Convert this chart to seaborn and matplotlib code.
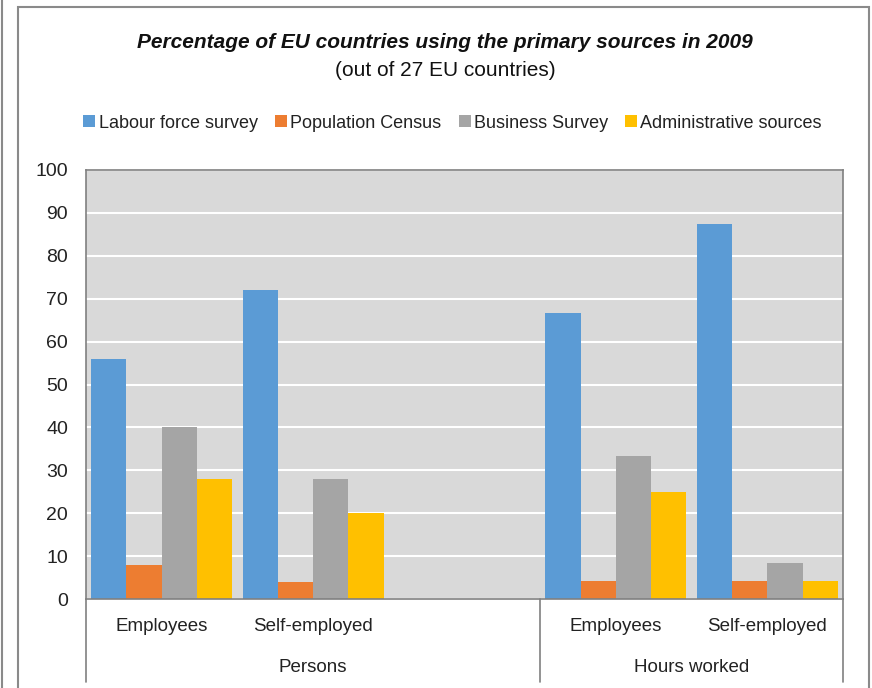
import matplotlib
matplotlib.use("Agg")
import matplotlib.pyplot as plt
import seaborn as sns
import pandas as pd
from matplotlib.patches import Rectangle
from matplotlib.lines import Line2D

# ---- data ----
slots = ["Persons|Employees", "Persons|Self-employed", "Persons|", "Hours worked|Employees", "Hours worked|Self-employed"]
slot_labels = ["Employees", "Self-employed", "", "Employees", "Self-employed"]
groups = ["Persons", "Hours worked"]
series = ["Labour force survey", "Population Census", "Business Survey", "Administrative sources"]
labour_force = [56.0, 72.0, 66.7, 87.5]
population_census = [8.0, 4.0, 4.2, 4.2]
business_survey = [40.0, 28.0, 33.3, 8.3]
administrative = [28.0, 20.0, 25.0, 4.2]
data_slots = ["Persons|Employees", "Persons|Self-employed", "Hours worked|Employees", "Hours worked|Self-employed"]
colors = ["#5B9BD5", "#ED7D31", "#A5A5A5", "#FFC000"]

rows = []
for name, vals in zip(series, [labour_force, population_census, business_survey, administrative]):
    for s, v in zip(data_slots, vals):
        rows.append({"slot": s, "source": name, "value": v})
df = pd.DataFrame(rows)

sns.set_theme(style="white")
FONT = ["Liberation Sans", "DejaVu Sans"]
plt.rcParams["font.family"] = FONT

fig = plt.figure(figsize=(8.72, 6.88), dpi=100)
ax = fig.add_axes([86/872, 89/688, (843-86)/872, (599-170)/688])
ax.set_facecolor("#D9D9D9")

sns.barplot(data=df, x="slot", y="value", hue="source", order=slots, hue_order=series,
            palette=colors, width=0.93, saturation=1, linewidth=0, ax=ax, legend=False, errorbar=None)

ax.set_ylim(0, 100)
ax.set_xlim(-0.5, len(slots) - 0.5)
ax.set_yticks(range(0, 101, 10))
ax.yaxis.grid(True, color="white", linewidth=1.5)
ax.set_axisbelow(True)
ax.tick_params(axis="y", labelsize=14, length=0, pad=13)
for t in ax.get_yticklabels():
    t.set_color("#222222")
ax.set_xticks([])
ax.set_xlabel("")
ax.set_ylabel("")
for side in ["top", "right", "left", "bottom"]:
    ax.spines[side].set_color("#808080")
    ax.spines[side].set_linewidth(1.2)

# category labels and group labels
trans = ax.get_xaxis_transform()
for i, lab in enumerate(slot_labels):
    if lab:
        ax.text(i, -0.065, lab, transform=trans, ha="center", va="center", fontsize=13.5, color="#222222")
ax.text(1.0, -0.16, groups[0], transform=trans, ha="center", va="center", fontsize=13.5, color="#222222")
ax.text(3.5, -0.16, groups[1], transform=trans, ha="center", va="center", fontsize=13.5, color="#222222")
for xv in [-0.5, 2.5, 4.5]:
    ax.plot([xv, xv], [0, -0.193], transform=trans, color="#808080", linewidth=1.2, clip_on=False)

# titles
fig.text(445/872, 1 - 43/688, "Percentage of EU countries using the primary sources in 2009",
         ha="center", va="center", fontsize=15, fontweight="bold", fontstyle="italic", color="#111111")
fig.text(445/872, 1 - 71/688, "(out of 27 EU countries)", ha="center", va="center", fontsize=15, color="#111111")

# legend
handles = [Line2D([], [], marker="s", linestyle="none", markersize=8, markerfacecolor=c, markeredgewidth=0) for c in colors]
fig.legend(handles, series, loc="center", bbox_to_anchor=(452/872, 1 - 123/688), ncol=4, frameon=False,
           fontsize=13, handletextpad=0.1, columnspacing=0.9, handlelength=0.8, labelcolor="#222222")

# frame lines
fig.add_artist(Rectangle((18/872, -0.05), (869-18)/872, 1.05 - 7/688, transform=fig.transFigure,
                         fill=False, edgecolor="#8a8a8a", linewidth=1.5))
fig.add_artist(Line2D([2/872, 2/872], [0, 1], transform=fig.transFigure, color="#8a8a8a", linewidth=1.5))

fig.savefig("out.png", dpi=100)
